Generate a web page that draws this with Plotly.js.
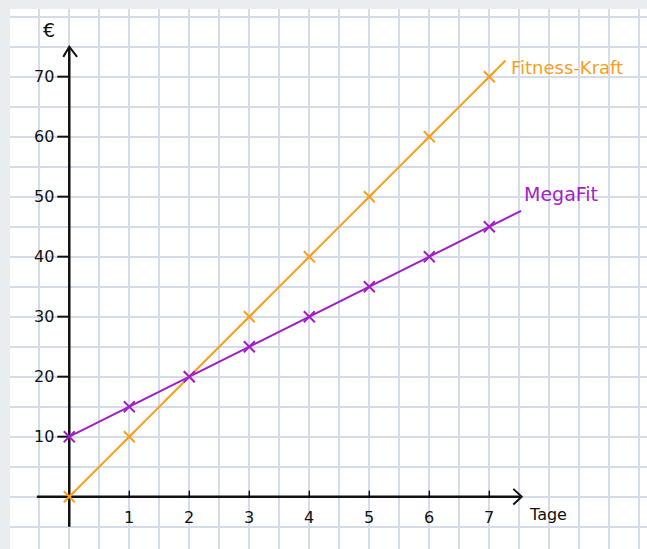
<!DOCTYPE html>
<html>
<head>
<meta charset="utf-8">
<script src="https://cdn.plot.ly/plotly-3.0.1.min.js"></script>
<style>
html,body{margin:0;padding:0;background:#e9edef;}
#chart{width:647px;height:549px;}
</style>
</head>
<body>
<div id="chart"></div>
<script>
// Data
const days = [0, 1, 2, 3, 4, 5, 6, 7];
const fitnessKraft = [0, 10, 20, 30, 40, 50, 60, 70];
const megaFit = [10, 15, 20, 25, 30, 35, 40, 45];
const xTickLabels = ['1', '2', '3', '4', '5', '6', '7'];
const xTickVals = [1, 2, 3, 4, 5, 6, 7];
const yTickVals = [10, 20, 30, 40, 50, 60, 70];
const yTickLabels = ['10', '20', '30', '40', '50', '60', '70'];
const seriesNames = ['Fitness-Kraft', 'MegaFit'];
const xAxisLabel = 'Tage';
const yAxisLabel = '€';

const ORANGE = '#f6a01d';
const PURPLE = '#a11fc6';
const FONT = 'DejaVu Sans, sans-serif';

function extend(xs, ys, xEnd) {
  const n = xs.length;
  const slope = (ys[n-1] - ys[n-2]) / (xs[n-1] - xs[n-2]);
  return {x: xs.concat([xEnd]), y: ys.concat([ys[n-1] + slope * (xEnd - xs[n-1])])};
}
const fkLine = extend(days, fitnessKraft, 7.27);
const mfLine = extend(days, megaFit, 7.53);

const traces = [
  {x: fkLine.x, y: fkLine.y, mode: 'lines', line: {color: ORANGE, width: 2}, hoverinfo: 'skip', showlegend: false},
  {x: mfLine.x, y: mfLine.y, mode: 'lines', line: {color: PURPLE, width: 2}, hoverinfo: 'skip', showlegend: false},
  {x: days, y: fitnessKraft, mode: 'markers', name: seriesNames[0],
   marker: {symbol: 'x-thin-open', size: 11, color: ORANGE, line: {color: ORANGE, width: 2}}, showlegend: false},
  {x: days, y: megaFit, mode: 'markers', name: seriesNames[1],
   marker: {symbol: 'x-thin-open', size: 11, color: PURPLE, line: {color: PURPLE, width: 2}}, showlegend: false}
];

const shapes = [];
const annotations = [];
const black = {color: '#111', width: 2.5};
// axes
shapes.push({type: 'line', xref: 'x', yref: 'y', x0: -0.54, y0: 0, x1: 7.54, y1: 0, line: black, layer: 'between'});
shapes.push({type: 'line', xref: 'x', yref: 'y', x0: 0, y0: -5, x1: 0, y1: 75, line: black, layer: 'between'});
// arrowheads
shapes.push({type: 'path', xref: 'x', yref: 'y', path: 'M -0.1,73.3 L 0,75 L 0.13,73.3', line: {color: '#111', width: 2}});
shapes.push({type: 'path', xref: 'x', yref: 'y', path: 'M 7.4,1.3 L 7.54,0 L 7.4,-1.3', line: {color: '#111', width: 2}});
// y ticks
yTickVals.forEach((v, i) => {
  shapes.push({type: 'line', xref: 'x', yref: 'y', x0: -0.2, y0: v, x1: 0, y1: v, line: {color: '#111', width: 2}, layer: 'between'});
  annotations.push({x: -0.2, y: v, xref: 'x', yref: 'y', text: yTickLabels[i], showarrow: false,
    xanchor: 'right', yanchor: 'middle', xshift: -1, font: {family: FONT, size: 16, color: '#111'}});
});
// x ticks
xTickVals.forEach((v, i) => {
  shapes.push({type: 'line', xref: 'x', yref: 'y', x0: v, y0: 0, x1: v, y1: 1, line: {color: '#111', width: 1.5}, layer: 'between'});
  annotations.push({x: v, y: -3.5, xref: 'x', yref: 'y', text: xTickLabels[i], showarrow: false,
    xanchor: 'center', yanchor: 'middle', font: {family: FONT, size: 16, color: '#111'}});
});
annotations.push({x: -0.33, y: 77.8, xref: 'x', yref: 'y', text: yAxisLabel, showarrow: false,
  xanchor: 'center', yanchor: 'middle', font: {family: FONT, size: 19, color: '#111'}});
annotations.push({x: 7.62, y: -3, xref: 'x', yref: 'y', text: xAxisLabel, showarrow: false,
  xanchor: 'left', yanchor: 'middle', font: {family: FONT, size: 16, color: '#111'}});
annotations.push({x: 7.33, y: 71.5, xref: 'x', yref: 'y', text: seriesNames[0], showarrow: false,
  xanchor: 'left', yanchor: 'middle', font: {family: FONT, size: 18, color: ORANGE}});
annotations.push({x: 7.55, y: 50.5, xref: 'x', yref: 'y', text: seriesNames[1], showarrow: false,
  xanchor: 'left', yanchor: 'middle', font: {family: FONT, size: 19, color: PURPLE}});

const layout = {
  width: 647, height: 549,
  margin: {l: 10, r: 0, t: 9, b: 0, pad: 0},
  paper_bgcolor: '#e9edef',
  plot_bgcolor: '#ffffff',
  showlegend: false,
  xaxis: {range: [-0.988, 9.628], tick0: 0, dtick: 0.5, showgrid: true, gridcolor: '#d4dce9', gridwidth: 1.7,
          zeroline: false, showticklabels: false, ticks: '', showline: false, fixedrange: true},
  yaxis: {range: [-8.72, 81.28], tick0: 0, dtick: 5, showgrid: true, gridcolor: '#d4dce9', gridwidth: 1.7,
          zeroline: false, showticklabels: false, ticks: '', showline: false, fixedrange: true},
  shapes: shapes,
  annotations: annotations
};

Plotly.newPlot('chart', traces, layout, {displayModeBar: false, staticPlot: true});
</script>
</body>
</html>
